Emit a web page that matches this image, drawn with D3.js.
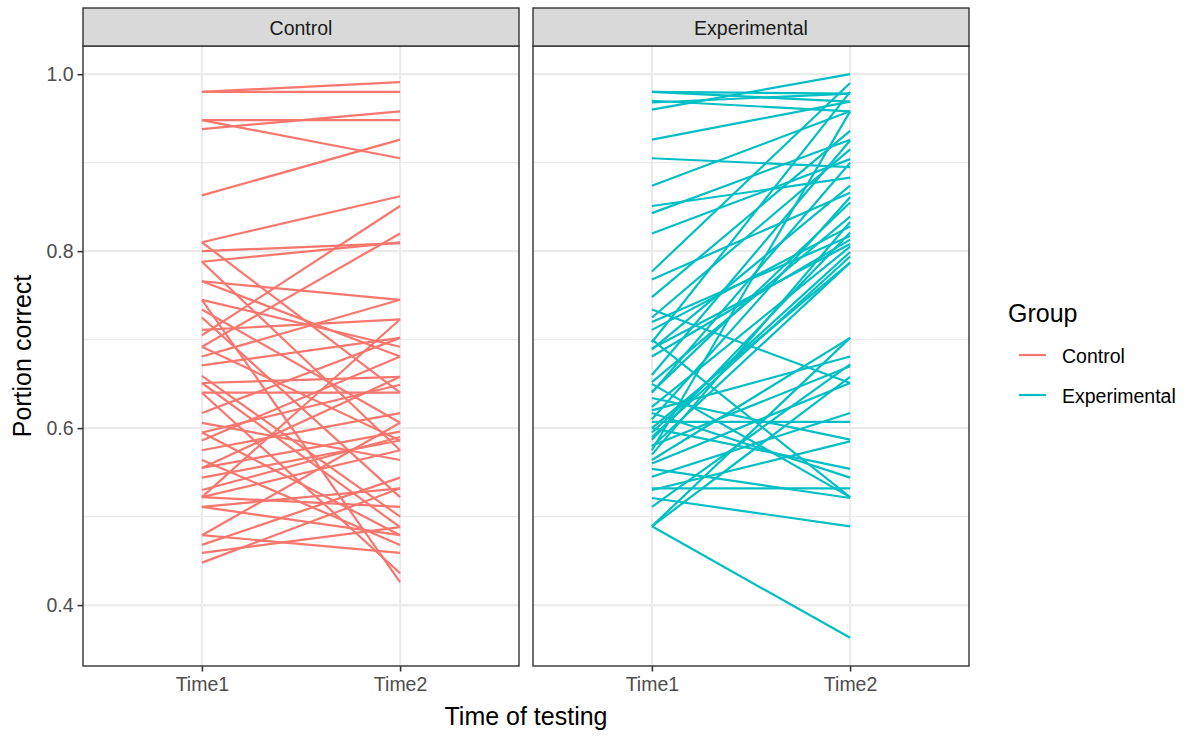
<!DOCTYPE html>
<html>
<head>
<meta charset="utf-8">
<script src="https://cdn.jsdelivr.net/npm/d3@7"></script>
<style>
  body { margin: 0; background: #ffffff; }
  svg text { font-family: 'Liberation Sans', Arial, Helvetica, sans-serif; }
</style>
</head>
<body>
<svg id="chart" width="1192" height="737"></svg>
<script>
// Facets, time points and per-participant scores
const groups = ["Control", "Experimental"];
const times = ["Time1", "Time2"];

const controlTime1 = [0.980, 0.980, 0.948, 0.948, 0.938, 0.863, 0.810, 0.705, 0.692, 0.800,
  0.810, 0.788, 0.766, 0.788, 0.745, 0.766, 0.745, 0.734, 0.725, 0.711,
  0.692, 0.681, 0.671, 0.659, 0.651, 0.640, 0.640, 0.617, 0.606, 0.595,
  0.586, 0.575, 0.564, 0.555, 0.544, 0.522, 0.522, 0.511, 0.511, 0.522,
  0.479, 0.468, 0.459, 0.448, 0.479, 0.555, 0.651, 0.595, 0.530];
const controlTime2 = [0.991, 0.980, 0.948, 0.905, 0.958, 0.926, 0.862, 0.851, 0.820, 0.809,
  0.640, 0.810, 0.745, 0.575, 0.426, 0.681, 0.692, 0.606, 0.522, 0.723,
  0.586, 0.745, 0.702, 0.500, 0.658, 0.640, 0.436, 0.702, 0.564, 0.649,
  0.681, 0.617, 0.468, 0.596, 0.586, 0.723, 0.575, 0.479, 0.532, 0.511,
  0.606, 0.544, 0.488, 0.532, 0.459, 0.658, 0.488, 0.479, 0.590];

const experimentalTime1 = [0.980, 0.980, 0.970, 0.960, 0.968, 0.926, 0.905, 0.874, 0.851, 0.843,
  0.820, 0.777, 0.768, 0.748, 0.734, 0.725, 0.711, 0.697, 0.689, 0.681,
  0.652, 0.641, 0.634, 0.624, 0.607, 0.590, 0.579, 0.587, 0.575, 0.564,
  0.554, 0.532, 0.521, 0.511, 0.489, 0.489, 0.489, 0.600, 0.617, 0.650,
  0.700, 0.620, 0.560, 0.545, 0.595, 0.610, 0.660, 0.690, 0.720, 0.580,
  0.530, 0.570, 0.640, 0.600];
const experimentalTime2 = [0.978, 0.969, 0.958, 1.000, 0.978, 0.969, 0.895, 0.958, 0.883, 0.926,
  0.904, 0.990, 0.866, 0.936, 0.651, 0.915, 0.828, 0.980, 0.874, 0.813,
  0.839, 0.855, 0.587, 0.805, 0.607, 0.794, 0.787, 0.821, 0.958, 0.702,
  0.521, 0.532, 0.489, 0.672, 0.363, 0.702, 0.658, 0.554, 0.544, 0.522,
  0.522, 0.681, 0.651, 0.617, 0.799, 0.861, 0.925, 0.808, 0.817, 0.670,
  0.585, 0.833, 0.900, 0.787];

const yMajorTicks = [0.4, 0.6, 0.8, 1.0];
const yMinorTicks = [0.5, 0.7, 0.9];
const groupColors = ["#F8766D", "#00BFC4"];

// Build one record per participant line
const series = [
  { group: groups[0], t1: controlTime1, t2: controlTime2, color: groupColors[0] },
  { group: groups[1], t1: experimentalTime1, t2: experimentalTime2, color: groupColors[1] }
];

const svg = d3.select("#chart");
const panelTop = 46, panelBottom = 666;
const stripTop = 8;
const panelBounds = [{ x0: 83, x1: 519 }, { x0: 533, x1: 969 }];
const smallFont = 19.5, titleFont = 25;

// Shared y scale with 5% expansion around the data range
const allValues = controlTime1.concat(controlTime2, experimentalTime1, experimentalTime2);
const yMin = d3.min(allValues), yMax = d3.max(allValues);
const pad = (yMax - yMin) * 0.05;
const y = d3.scaleLinear().domain([yMin - pad, yMax + pad]).range([panelBottom, panelTop]);

const lineGen = d3.line().x(d => d[0]).y(d => y(d[1]));

series.forEach((s, i) => {
  const b = panelBounds[i];
  const x = d3.scalePoint().domain(times).range([b.x0, b.x1]).padding(0.6);
  const g = svg.append("g");

  // panel background
  g.append("rect").attr("x", b.x0).attr("y", panelTop)
    .attr("width", b.x1 - b.x0).attr("height", panelBottom - panelTop)
    .attr("fill", "#ffffff");

  // minor and major grid
  g.selectAll(".minor").data(yMinorTicks).join("line")
    .attr("x1", b.x0).attr("x2", b.x1)
    .attr("y1", d => y(d)).attr("y2", d => y(d))
    .attr("stroke", "#EBEBEB").attr("stroke-width", 1.2);
  g.selectAll(".major").data(yMajorTicks).join("line")
    .attr("x1", b.x0).attr("x2", b.x1)
    .attr("y1", d => y(d)).attr("y2", d => y(d))
    .attr("stroke", "#EBEBEB").attr("stroke-width", 2.2);
  g.selectAll(".vmajor").data(times).join("line")
    .attr("x1", d => x(d)).attr("x2", d => x(d))
    .attr("y1", panelTop).attr("y2", panelBottom)
    .attr("stroke", "#EBEBEB").attr("stroke-width", 2.2);

  // participant lines
  const pairs = s.t1.map((v, k) => [[x(times[0]), v], [x(times[1]), s.t2[k]]]);
  g.selectAll(".pl").data(pairs).join("path")
    .attr("d", lineGen)
    .attr("fill", "none")
    .attr("stroke", s.color)
    .attr("stroke-width", 2.2);

  // panel border
  g.append("rect").attr("x", b.x0).attr("y", panelTop)
    .attr("width", b.x1 - b.x0).attr("height", panelBottom - panelTop)
    .attr("fill", "none").attr("stroke", "#333333").attr("stroke-width", 1.4);

  // facet strip
  g.append("rect").attr("x", b.x0).attr("y", stripTop)
    .attr("width", b.x1 - b.x0).attr("height", panelTop - stripTop)
    .attr("fill", "#D9D9D9").attr("stroke", "#333333").attr("stroke-width", 1.4);
  g.append("text").attr("x", (b.x0 + b.x1) / 2).attr("y", (stripTop + panelTop) / 2 + 1)
    .attr("text-anchor", "middle").attr("dominant-baseline", "central")
    .attr("font-size", smallFont).attr("fill", "#1A1A1A").text(s.group);

  // bottom axis
  const xAxis = g.append("g").attr("transform", `translate(0,${panelBottom})`)
    .call(d3.axisBottom(x).tickSize(5.5).tickPadding(6));
  xAxis.select(".domain").remove();
  xAxis.selectAll(".tick line").attr("stroke", "#333333").attr("stroke-width", 1.6);
  xAxis.selectAll(".tick text").attr("fill", "#4D4D4D").attr("font-size", smallFont)
    .attr("font-family", "'Liberation Sans', Arial, sans-serif");
});

// left axis
const yAxis = svg.append("g").attr("transform", `translate(${panelBounds[0].x0},0)`)
  .call(d3.axisLeft(y).tickValues(yMajorTicks).tickFormat(d3.format(".1f")).tickSize(5.5).tickPadding(4));
yAxis.select(".domain").remove();
yAxis.selectAll(".tick line").attr("stroke", "#333333").attr("stroke-width", 1.6);
yAxis.selectAll(".tick text").attr("fill", "#4D4D4D").attr("font-size", smallFont)
  .attr("font-family", "'Liberation Sans', Arial, sans-serif");

// axis titles
svg.append("text")
  .attr("x", (panelBounds[0].x0 + panelBounds[1].x1) / 2).attr("y", 725)
  .attr("text-anchor", "middle").attr("font-size", titleFont).attr("fill", "#000")
  .text("Time of testing");
svg.append("text")
  .attr("transform", `translate(31,${(panelTop + panelBottom) / 2}) rotate(-90)`)
  .attr("text-anchor", "middle").attr("font-size", titleFont).attr("fill", "#000")
  .text("Portion correct");

// legend
const legend = svg.append("g").attr("transform", "translate(1008,0)");
legend.append("text").attr("x", 0).attr("y", 322)
  .attr("font-size", titleFont).attr("fill", "#000").text("Group");
groups.forEach((gName, i) => {
  const cy = 355 + i * 40;
  legend.append("line").attr("x1", 11).attr("x2", 38).attr("y1", cy).attr("y2", cy)
    .attr("stroke", groupColors[i]).attr("stroke-width", 2.2);
  legend.append("text").attr("x", 54).attr("y", cy + 1).attr("dominant-baseline", "central")
    .attr("font-size", smallFont).attr("fill", "#000").text(gName);
});
</script>
</body>
</html>
